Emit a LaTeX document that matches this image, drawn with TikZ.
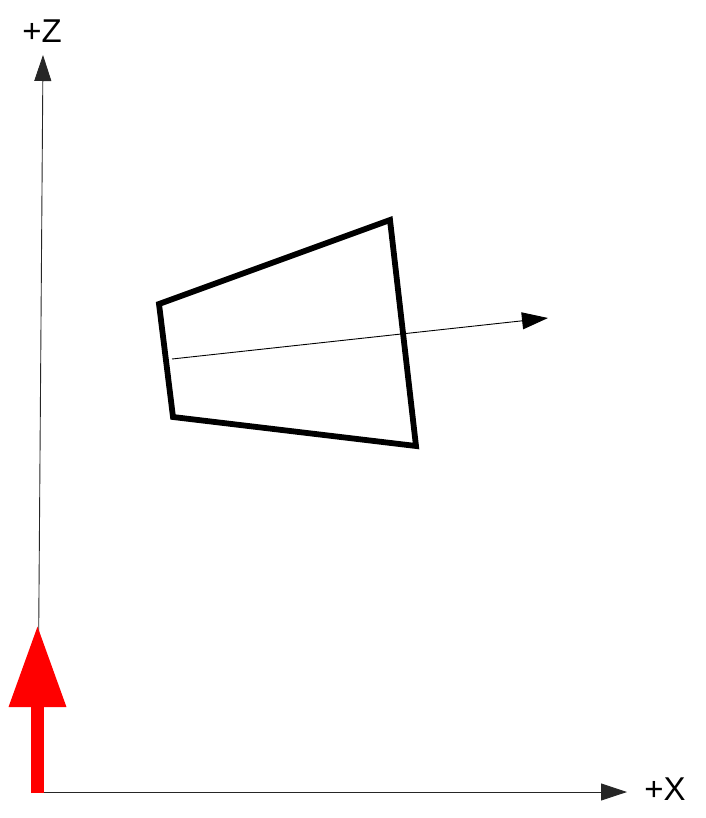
\documentclass[tikz,border=0pt]{standalone}
\usepackage{fontspec}
\setmainfont{Liberation Sans}
\usetikzlibrary{arrows.meta}

\begin{document}
\begin{tikzpicture}[x=1pt,y=-1pt,
  axis/.style={line width=0.9pt,black!85,-{Triangle[length=26pt,width=17pt]}},
  lbl/.style={font=\fontsize{33}{40}\selectfont,inner sep=0pt},
  frame/.style={line width=5.8pt,line join=miter,line cap=round},
  normal/.style={line width=0.9pt,-{Triangle[length=26pt,width=17pt]}},
  thrust/.style={red,line width=13pt,-{Triangle[length=82pt,width=54pt]}}]
 \useasboundingbox (0,0) rectangle (705,818);
  \coordinate (o) at (37.5,792);
  \coordinate (ztip) at (43,55);
  \coordinate (xtip) at (627,792);
  \node[lbl] (zlab) at (42,31) {+Z};
  \node[lbl] (xlab) at (665,789.5) {+X};
 \draw[axis] (o) -- (ztip);
 \draw[axis] (o) -- (xtip);
  % quadrilateral
  \coordinate (p1) at (159,304);
  \coordinate (p2) at (390,220);
  \coordinate (p3) at (416,446);
  \coordinate (p4) at (173,417);
 \draw[frame] (p1) -- (p2) -- (p3) -- (p4) -- cycle;
  \coordinate (nstart) at (172,359);
  \coordinate (ntip) at (548,318);
 \draw[normal] (nstart) -- (ntip);
  % red arrow
  \coordinate (rbot) at (37.5,793);
  \coordinate (rtip) at (37.5,625);
 \draw[thrust] (rbot) -- (rtip);
\end{tikzpicture}
\end{document}
